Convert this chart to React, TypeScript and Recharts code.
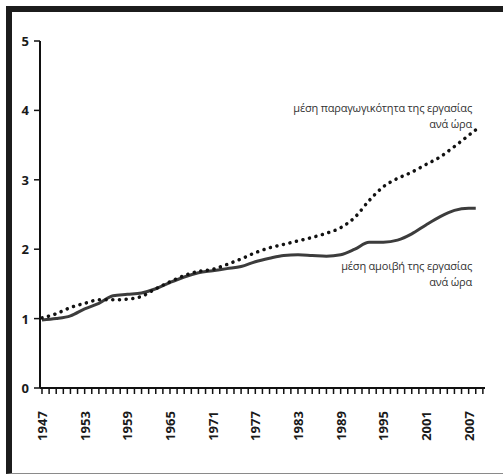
import React from "react";
import { LineChart, Line, XAxis, YAxis, Customized } from "recharts";

const years = [1947, 1949, 1951, 1953, 1955, 1957, 1959, 1961, 1963, 1965, 1967, 1969, 1971, 1973, 1975, 1977, 1979, 1981, 1983, 1985, 1987, 1989, 1991, 1993, 1995, 1997, 1999, 2001, 2003, 2005, 2007, 2008];
const wage = [0.98, 1.0, 1.04, 1.14, 1.22, 1.33, 1.35, 1.37, 1.43, 1.52, 1.6, 1.66, 1.69, 1.72, 1.75, 1.82, 1.87, 1.91, 1.92, 1.91, 1.9, 1.92, 2.0, 2.1, 2.1, 2.13, 2.22, 2.35, 2.47, 2.56, 2.59, 2.59];
const productivity = [1.01, 1.07, 1.16, 1.22, 1.27, 1.27, 1.28, 1.32, 1.43, 1.53, 1.62, 1.68, 1.71, 1.78, 1.86, 1.95, 2.02, 2.07, 2.12, 2.17, 2.23, 2.31, 2.46, 2.7, 2.9, 3.02, 3.11, 3.22, 3.33, 3.48, 3.64, 3.72];
const yTicks = [0, 1, 2, 3, 4, 5];
const xTicks = Array.from({ length: 63 }, (_, i) => 1947 + i);
const labelYears = [1947, 1953, 1959, 1965, 1971, 1977, 1983, 1989, 1995, 2001, 2007];
const productivityLabel = ["μέση παραγωγικότητα της εργασίας", "ανά ώρα"];
const wageLabel = ["μέση αμοιβή της εργασίας", "ανά ώρα"];

const data = years.map((y, i) => ({ year: y, wage: wage[i], productivity: productivity[i] }));

const numFont = "'Open Sans', sans-serif";
const textFont = "'Open Sans', sans-serif";

const XTick = (props: any) => {
  const { x, y, payload } = props;
  if (!labelYears.includes(payload.value)) return null;
  return (
    <text
      x={x}
      y={y + 30}
      transform={`rotate(-90 ${x} ${y + 30})`}
      textAnchor="middle"
      dominantBaseline="central"
      fontFamily={numFont}
      fontWeight={700}
      fontSize={13}
      fill="#1a1a1a"
    >
      {payload.value}
    </text>
  );
};

const YTick = (props: any) => {
  const { x, y, payload } = props;
  return (
    <text x={x} y={y} textAnchor="end" dominantBaseline="central" fontFamily={numFont} fontWeight={700} fontSize={13} fill="#1a1a1a">
      {payload.value}
    </text>
  );
};

const Annotations = () => (
  <g fontFamily={textFont} fontSize={11} fill="#333" textAnchor="end" letterSpacing={-0.2}>
    <text x={464} y={104}>{productivityLabel[0]}</text>
    <text x={464} y={120}>{productivityLabel[1]}</text>
    <text x={464} y={262}>{wageLabel[0]}</text>
    <text x={464} y={278}>{wageLabel[1]}</text>
  </g>
);

export default function App() {
  return (
    <div style={{ width: 495, height: 467, background: "#fff" }}>
      <LineChart
        width={495}
        height={467}
        data={data}
        margin={{ top: 33, right: 18, bottom: 37, left: 0 }}
      >
        <XAxis
          dataKey="year"
          type="number"
          domain={[1946.72, 2009.3]}
          ticks={xTicks}
          interval={0}
          tick={<XTick />}
          tickSize={6}
          height={50}
          axisLine={{ stroke: "#111", strokeWidth: 2 }}
          tickLine={{ stroke: "#111", strokeWidth: 1.5 }}
        />
        <YAxis
          type="number"
          domain={[0, 5]}
          ticks={yTicks}
          interval={0}
          width={32}
          tickSize={6}
          tickMargin={5}
          tick={<YTick />}
          axisLine={{ stroke: "#111", strokeWidth: 2 }}
          tickLine={{ stroke: "#111", strokeWidth: 1.5 }}
        />
        <Line
          dataKey="wage"
          type="monotone"
          stroke="#3c3c3c"
          strokeWidth={3}
          dot={false}
          isAnimationActive={false}
        />
        <Line
          dataKey="productivity"
          type="monotone"
          stroke="#111"
          strokeWidth={3.5}
          strokeDasharray="0.1 6.6"
          strokeLinecap="round"
          dot={false}
          isAnimationActive={false}
        />
        <Customized component={Annotations} />
      </LineChart>
      <div
        style={{
          position: "fixed",
          left: 6,
          top: 6,
          width: 497,
          height: 468,
          borderTop: "6px solid #1c1c1c",
          borderLeft: "6px solid #1c1c1c",
          borderBottom: "1px solid #8a8a8a",
          boxSizing: "border-box",
          pointerEvents: "none",
          zIndex: 10,
        }}
      />
    </div>
  );
}
